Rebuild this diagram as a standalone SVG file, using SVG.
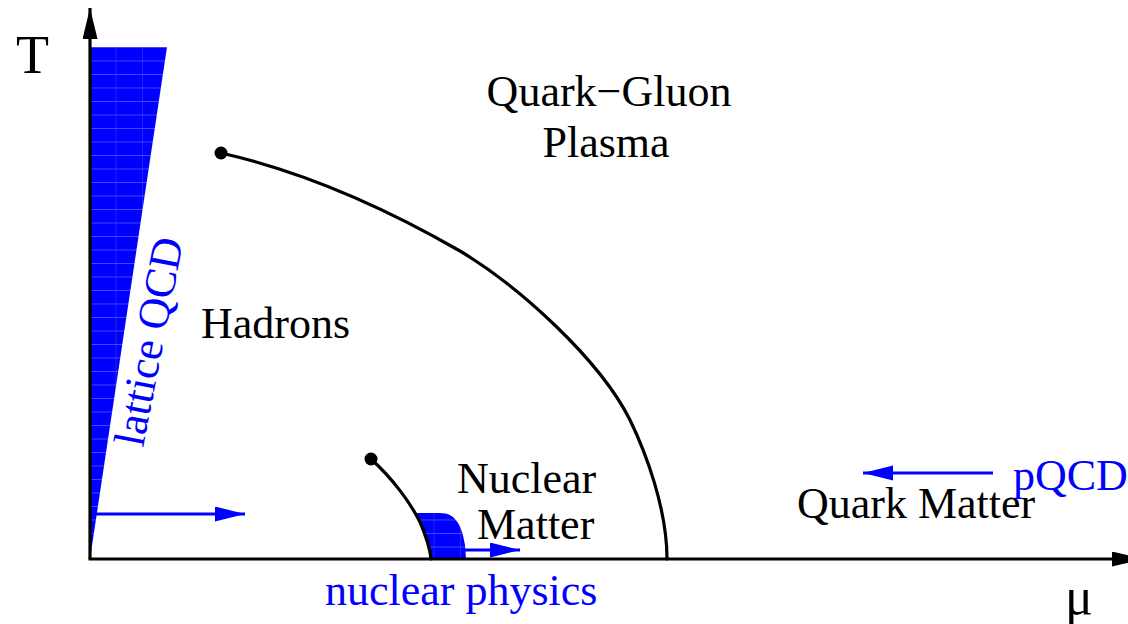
<svg xmlns="http://www.w3.org/2000/svg" width="1128" height="624" viewBox="0 0 1128 624">
<style>
.lbl{font-family:"Liberation Serif","Times New Roman",serif;font-size:44px;fill:#000}
.blue{fill:#0000ff}
.ax{stroke:#000;stroke-width:3.2;fill:none}
.crv{stroke:#000;stroke-width:3.2;fill:none;stroke-linecap:round}
.barr{stroke:#0000ff;stroke-width:3.2;fill:none}
</style>
<defs>
<marker id="ahb" markerUnits="userSpaceOnUse" markerWidth="32" markerHeight="16" refX="30" refY="7.5" orient="auto">
<path d="M0,0 L30,7.5 L0,15 Z" fill="#0000ff"/>
</marker>
<marker id="ahk" markerUnits="userSpaceOnUse" markerWidth="32" markerHeight="16" refX="31" refY="7.5" orient="auto">
<path d="M0,0 L31,7.5 L0,15 Z" fill="#000"/>
</marker>
<pattern id="gridp" patternUnits="userSpaceOnUse" x="90" y="47" width="26.5" height="13.5">
<rect width="26.5" height="13.5" fill="#0000ff"/>
<path d="M0,0.5 H26.5 M26.5,0 V13.5" stroke="#4646ff" stroke-width="1" fill="none"/>
</pattern>
</defs>

<g id="regions">
<polygon id="lattice-wedge" points="90,47 167,47 90,559" fill="url(#gridp)"/>
<path id="nuclear-blob" d="M416,513 L440,513 C456,513 462,526 465,545 L466,559 L431,559 C430,548 426,536 420,522 Z" fill="url(#gridp)"/>
</g>

<g id="axes">
<line class="ax" x1="90" y1="559" x2="90" y2="8" marker-end="url(#ahk)"/>
<line class="ax" x1="88.5" y1="559" x2="1143" y2="559" marker-end="url(#ahk)"/>
<text class="lbl" x="16" y="73" style="font-size:54px">T</text>
<text class="lbl" x="1065" y="614" style="font-size:52px">μ</text>
</g>

<g id="connectors">
<path id="qgp-line" class="crv" d="M221,153 C301,171 380,205 460,251 C520,287 600,360 630,420 C646,453 667,509 667,559"/>
<circle cx="221" cy="153" r="6.5" fill="#000"/>
<path id="nuclear-line" class="crv" d="M371,459 C392,478 410,502 420,522 C426,536 430,548 431,559"/>
<circle cx="371" cy="459" r="6.5" fill="#000"/>
<line class="barr" x1="92" y1="514" x2="245" y2="514" marker-end="url(#ahb)"/>
<line class="barr" x1="465" y1="550" x2="520" y2="550" marker-end="url(#ahb)"/>
<line class="barr" x1="993" y1="473" x2="863" y2="473" marker-end="url(#ahb)"/>
</g>

<g id="qgp"><text class="lbl" x="609" y="106" text-anchor="middle">Quark−Gluon</text>
<text class="lbl" x="606" y="157" text-anchor="middle">Plasma</text></g>
<g id="hadrons"><text class="lbl" x="201" y="338">Hadrons</text></g>
<g id="nuclear-matter"><text class="lbl" x="457" y="493">Nuclear</text>
<text class="lbl" x="477" y="539">Matter</text></g>
<g id="quark-matter"><text class="lbl" x="797" y="518">Quark Matter</text></g>
<g id="pqcd"><text class="lbl blue" x="1013" y="490">pQCD</text></g>
<g id="nuclear-physics"><text class="lbl blue" x="325" y="605">nuclear physics</text></g>
<g id="lattice-qcd"><text class="lbl blue" transform="translate(143,448) rotate(-79)">lattice QCD</text></g>
</svg>
